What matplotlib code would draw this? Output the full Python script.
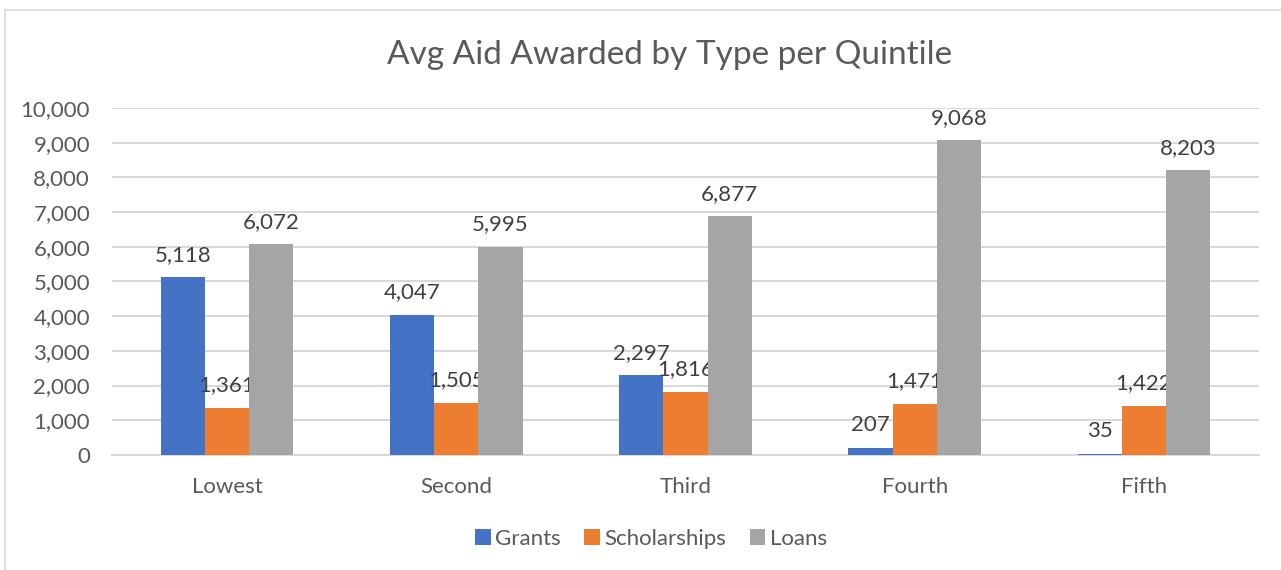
import matplotlib.pyplot as plt
import numpy as np
from matplotlib.lines import Line2D

plt.rcParams['font.family'] = ['Lato', 'DejaVu Sans']

quintiles = ['Lowest', 'Second', 'Third', 'Fourth', 'Fifth']
grants = [5118, 4047, 2297, 207, 35]
scholarships = [1361, 1505, 1816, 1471, 1422]
loans = [6072, 5995, 6877, 9068, 8203]

series = [('Grants', grants, '#4472C4'),
          ('Scholarships', scholarships, '#ED7D31'),
          ('Loans', loans, '#A5A5A5')]

txt = '#595959'
grid = '#D9D9D9'

fig = plt.figure(figsize=(12.81, 5.70), dpi=100)
ax = fig.add_axes([0.0877, 0.2018, 0.8948, 0.6088])

x = np.arange(len(quintiles))
w = 0.193
for i, (name, vals, col) in enumerate(series):
    pos = x + (i - 1) * w
    ax.bar(pos, vals, width=w, color=col, label=name, zorder=3)
    for px, v in zip(pos, vals):
        ax.annotate(f'{v:,}', xy=(px, v), xytext=(0, 9), textcoords='offset points',
                    ha='center', va='bottom', fontsize=16, color='#404040')

ax.set_xlim(-0.5, len(quintiles) - 0.5)
ax.set_ylim(0, 10000)
ax.set_yticks(range(0, 10001, 1000))
ax.yaxis.set_major_formatter(plt.FuncFormatter(lambda v, p: f'{int(v):,}'))
ax.set_xticks(x)
ax.set_xticklabels(quintiles)
ax.tick_params(axis='both', length=0, labelsize=16, labelcolor=txt)
ax.tick_params(axis='y', pad=16)
ax.tick_params(axis='x', pad=16)
ax.grid(axis='y', color=grid, linewidth=1.5, zorder=0)
for s in ['top', 'right', 'left']:
    ax.spines[s].set_visible(False)
ax.spines['bottom'].set_color(grid)
ax.spines['bottom'].set_linewidth(1.5)

fig.text(670 / 1281, 1 - 55 / 570, 'Avg Aid Awarded by Type per Quintile',
         ha='center', va='center', fontsize=24, color=txt)

fig.legend(loc='center', bbox_to_anchor=(651 / 1281, 1 - 539 / 570), ncol=3,
           frameon=False, fontsize=16, handlelength=0.7, handleheight=0.7,
           handletextpad=0.2, columnspacing=1.05, labelcolor=txt)

# chart border (left and top edges visible)
fig.add_artist(Line2D([5 / 1281, 5 / 1281], [0, 1 - 10 / 570], color=grid,
                      linewidth=1.2, transform=fig.transFigure))
fig.add_artist(Line2D([5 / 1281, 1], [1 - 10 / 570, 1 - 10 / 570], color=grid,
                      linewidth=1.2, transform=fig.transFigure))

fig.savefig('out.png', dpi=100)
